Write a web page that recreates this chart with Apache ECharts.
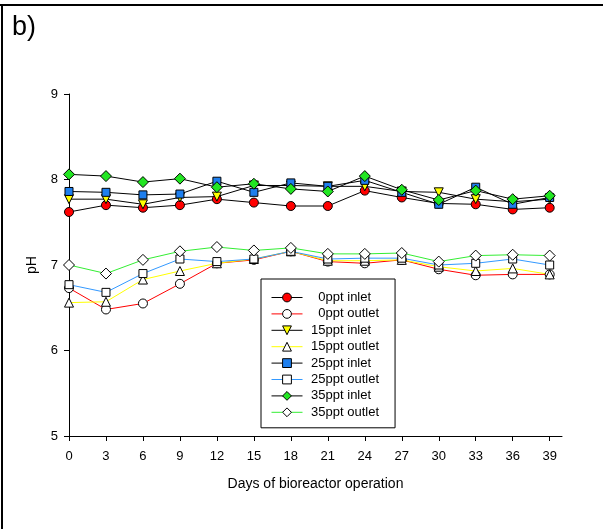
<!DOCTYPE html>
<html>
<head>
<meta charset="utf-8">
<script src="https://cdn.jsdelivr.net/npm/echarts@6/dist/echarts.min.js"></script>
<style>html,body{margin:0;padding:0;background:#fff;}#c{width:603px;height:529px;}</style>
</head>
<body>
<div id="c"></div>
<script>
const days = [0, 3, 6, 9, 12, 15, 18, 21, 24, 27, 30, 33, 36, 39];
const yTicks = [5, 6, 7, 8, 9];
const in0  = [7.62, 7.70, 7.67, 7.70, 7.77, 7.73, 7.69, 7.69, 7.87, 7.79, 7.72, 7.71, 7.65, 7.67];
const out0 = [6.73, 6.48, 6.55, 6.78, 7.02, 7.06, 7.16, 7.04, 7.02, 7.06, 6.95, 6.88, 6.89, 6.89];
const in15  = [7.77, 7.77, 7.71, 7.79, 7.80, 7.93, 7.93, 7.92, 7.92, 7.86, 7.85, 7.77, 7.74, 7.77];
const out15 = [6.56, 6.57, 6.83, 6.93, 7.02, 7.07, 7.16, 7.05, 7.05, 7.06, 6.98, 6.93, 6.96, 6.89];
const in25  = [7.86, 7.85, 7.82, 7.83, 7.98, 7.85, 7.96, 7.92, 7.99, 7.85, 7.71, 7.91, 7.71, 7.79];
const out25 = [6.77, 6.68, 6.90, 7.07, 7.04, 7.07, 7.16, 7.07, 7.08, 7.08, 7.00, 7.02, 7.07, 7.00];
const in35  = [8.06, 8.04, 7.97, 8.01, 7.91, 7.95, 7.89, 7.86, 8.04, 7.88, 7.76, 7.87, 7.77, 7.81];
const out35 = [7.00, 6.90, 7.06, 7.16, 7.21, 7.17, 7.20, 7.13, 7.13, 7.14, 7.04, 7.11, 7.12, 7.11];
const names = ['\u2007 0ppt inlet', '\u2007 0ppt outlet', ' 15ppt inlet', ' 15ppt outlet', ' 25ppt inlet', ' 25ppt outlet', ' 35ppt inlet', ' 35ppt outlet'];

const FONT = 'Liberation Sans, Arial, sans-serif';
function pairs(v) { return days.map((d, i) => [d, v[i]]); }
function ser(name, vals, symbol, size, fill, lineColor, rotate) {
  return {
    name: name, type: 'line', data: pairs(vals), symbol: symbol, symbolSize: size,
    symbolRotate: rotate || 0, showAllSymbol: true,
    lineStyle: { color: lineColor, width: 1 },
    itemStyle: { color: fill, borderColor: '#000', borderWidth: 1 },
    emphasis: { disabled: true }, animation: false, z: 2
  };
}
const series = [
  ser(names[0], in0, 'circle', 9, '#ff0000', '#000'),
  ser(names[1], out0, 'circle', 9, '#ffffff', '#ff0000'),
  ser(names[2], in15, 'triangle', 9, '#ffff00', '#000', 180),
  ser(names[3], out15, 'triangle', 9, '#ffffff', '#ffff00'),
  ser(names[4], in25, 'rect', 8, '#1e7fef', '#000'),
  ser(names[5], out25, 'rect', 8, '#ffffff', '#3399ff'),
  ser(names[6], in35, 'diamond', 11, '#22e622', '#000'),
  ser(names[7], out35, 'diamond', 11, '#ffffff', '#33ee33')
];

const chart = echarts.init(document.getElementById('c'), null, { renderer: 'canvas' });
chart.setOption({
  animation: false,
  backgroundColor: '#fff',
  textStyle: { fontFamily: FONT },
  grid: { left: 69, right: 41, top: 94, bottom: 93, containLabel: false },
  xAxis: {
    type: 'value', min: 0, max: 40, interval: 3,
    name: 'Days of bioreactor operation', nameLocation: 'middle', nameGap: 41,
    nameTextStyle: { fontSize: 14, color: '#000', fontFamily: FONT },
    axisLine: { lineStyle: { color: '#000', width: 1 } },
    axisTick: { show: true, inside: false, length: 5, lineStyle: { color: '#000' }, customValues: days },
    axisLabel: { fontSize: 13, color: '#000', margin: 14, fontFamily: FONT, customValues: days },
    splitLine: { show: false }
  },
  yAxis: {
    type: 'value', min: 5, max: 9, interval: 1,
    name: 'pH', nameLocation: 'middle', nameGap: 30,
    nameTextStyle: { fontSize: 14, color: '#000', fontFamily: FONT },
    axisLine: { show: true, lineStyle: { color: '#000', width: 1 } },
    axisTick: { show: true, inside: false, length: 5, lineStyle: { color: '#000' }, customValues: yTicks },
    axisLabel: { fontSize: 13, color: '#000', margin: 11, fontFamily: FONT, customValues: yTicks },
    splitLine: { show: false }
  },
  legend: {
    orient: 'vertical', left: 261, top: 279,
    padding: [12, 16, 9, 10], itemWidth: 31, itemHeight: 11, itemGap: 3.4,
    backgroundColor: '#fff', borderColor: '#000', borderWidth: 1,
    lineStyle: { width: 1 },
    itemStyle: { borderWidth: 1 },
    textStyle: { fontSize: 13, color: '#000', fontFamily: FONT },
    selectedMode: false,
    data: names
  },
  graphic: [
    { type: 'line', shape: { x1: 0, y1: 5, x2: 603, y2: 5 }, style: { stroke: '#000', lineWidth: 2 } },
    { type: 'line', shape: { x1: 2, y1: 4, x2: 2, y2: 529 }, style: { stroke: '#000', lineWidth: 2 } },
    { type: 'text', left: 12, top: 14, style: { text: 'b)', fontSize: 27, fill: '#000', fontFamily: FONT } }
  ],
  series: series
});
</script>
</body>
</html>
